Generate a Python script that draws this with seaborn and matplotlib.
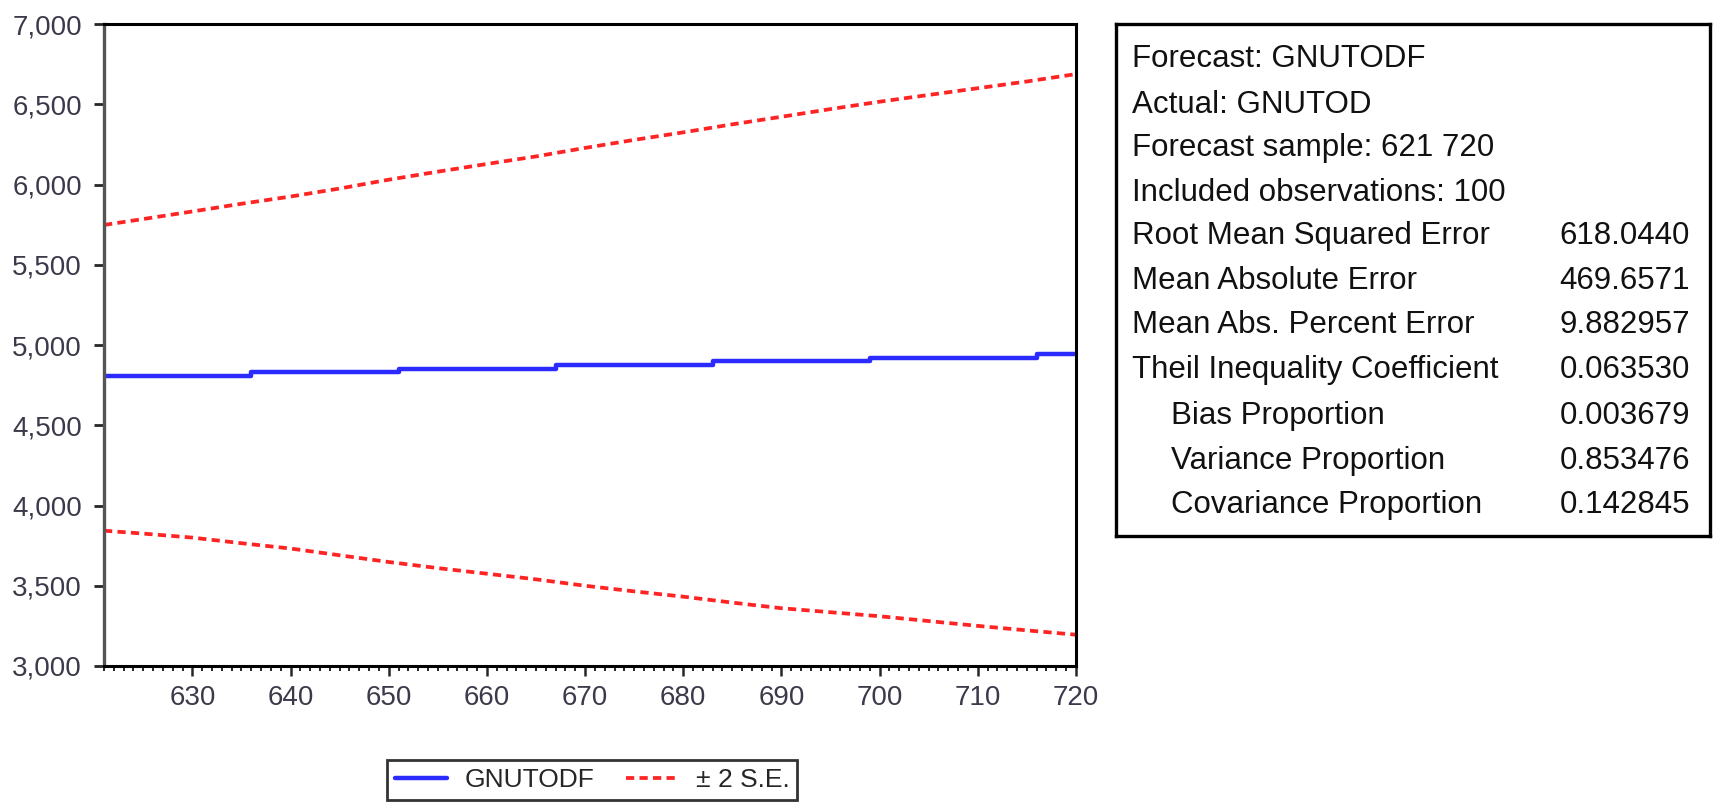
import matplotlib
matplotlib.use("Agg")
import matplotlib.pyplot as plt
from matplotlib.ticker import MultipleLocator, StrMethodFormatter
import seaborn as sns

# forecast (step levels)
fc_period = [621, 636, 651, 667, 683, 699, 716, 720]
fc_value = [4805, 4829, 4853, 4876, 4899, 4921, 4943, 4943]

# +/- 2 S.E. bands, read every 5 periods
band_period = [621, 625, 630, 635, 640, 645, 650, 655, 660, 665, 670,
               675, 680, 685, 690, 695, 700, 705, 710, 715, 720]
upper = [5748, 5785, 5832, 5880, 5925, 5975, 6030, 6080, 6128, 6175, 6228,
         6278, 6325, 6375, 6422, 6470, 6516, 6558, 6600, 6642, 6688]
lower = [3843, 3825, 3800, 3765, 3732, 3690, 3648, 3610, 3575, 3540, 3500,
         3465, 3432, 3395, 3360, 3335, 3310, 3280, 3250, 3222, 3195]

stat_names = ["Root Mean Squared Error", "Mean Absolute Error",
              "Mean Abs. Percent Error", "Theil Inequality Coefficient",
              "Bias Proportion", "Variance Proportion", "Covariance Proportion"]
stat_values = ["618.0440", "469.6571", "9.882957", "0.063530",
               "0.003679", "0.853476", "0.142845"]
header = ["Forecast: GNUTODF", "Actual: GNUTOD",
          "Forecast sample: 621 720", "Included observations: 100"]

sns.set_style("white")
plt.rcParams['font.family'] = ['Liberation Sans', 'DejaVu Sans']

fig = plt.figure(figsize=(17.16, 8.06), dpi=100)
ax = fig.add_axes([0.0606, 0.1737, 0.5664, 0.7965])

blue = "#2b2bff"
red = "#ff2424"
sns.lineplot(x=fc_period, y=fc_value, ax=ax, color=blue, lw=3.2,
             drawstyle="steps-post", label="GNUTODF")
sns.lineplot(x=band_period, y=upper, ax=ax, color=red, lw=2.7,
             linestyle=(0, (2.2, 1.4)), label="± 2 S.E.")
sns.lineplot(x=band_period, y=lower, ax=ax, color=red, lw=2.7,
             linestyle=(0, (2.2, 1.4)), label="_nolegend_")

ax.set_xlim(621, 720)
ax.set_ylim(3000, 7000)
ax.yaxis.set_major_locator(MultipleLocator(500))
ax.yaxis.set_major_formatter(StrMethodFormatter("{x:,.0f}"))
ax.xaxis.set_major_locator(MultipleLocator(10))
ax.xaxis.set_minor_locator(MultipleLocator(1))
ax.set_xlabel("")
ax.set_ylabel("")

for side in ["top", "bottom", "right"]:
    ax.spines[side].set_color("black")
    ax.spines[side].set_linewidth(2.2)
ax.spines["left"].set_color("#555555")
ax.spines["left"].set_linewidth(2.4)

tick_col = "#3a3a4a"
ax.tick_params(axis="y", which="major", direction="out", length=7, width=2,
               pad=9, labelsize=20, labelcolor=tick_col, left=True)
ax.tick_params(axis="x", which="major", direction="out", length=7, width=1.8,
               pad=7, labelsize=20, labelcolor=tick_col, bottom=True)
ax.tick_params(axis="x", which="minor", direction="out", length=3.5,
               width=1.4, bottom=True)

handles, labels = ax.get_legend_handles_labels()
ax.get_legend().remove()
leg = fig.legend(handles, labels, loc="upper center",
                 bbox_to_anchor=(0.345, 0.057), ncol=2, fontsize=19,
                 frameon=True, fancybox=False, edgecolor="black",
                 handlelength=2.0, handletextpad=0.65, columnspacing=1.2,
                 borderpad=0.3, borderaxespad=0)
leg.get_frame().set_linewidth(2)

# statistics box
box = fig.add_axes([0.6503, 0.335, 0.3462, 0.635])
box.set_xticks([])
box.set_yticks([])
for s in box.spines.values():
    s.set_color("black")
    s.set_linewidth(2.4)

rows_y = [59, 105, 148, 193, 236, 281, 325, 370, 416, 461, 505]
fs = 22.5
for i, line in enumerate(header):
    fig.text(0.6597, 1 - rows_y[i] / 806, line, fontsize=fs,
             va="center", ha="left", color="#111111")
for j, (name, val) in enumerate(zip(stat_names, stat_values)):
    yy = 1 - rows_y[len(header) + j] / 806
    xx = 0.6824 if j >= 4 else 0.6597
    fig.text(xx, yy, name, fontsize=fs, va="center", ha="left", color="#111111")
    fig.text(0.9848, yy, val, fontsize=fs, va="center", ha="right",
             color="#111111")

fig.savefig("out.png", dpi=100)
